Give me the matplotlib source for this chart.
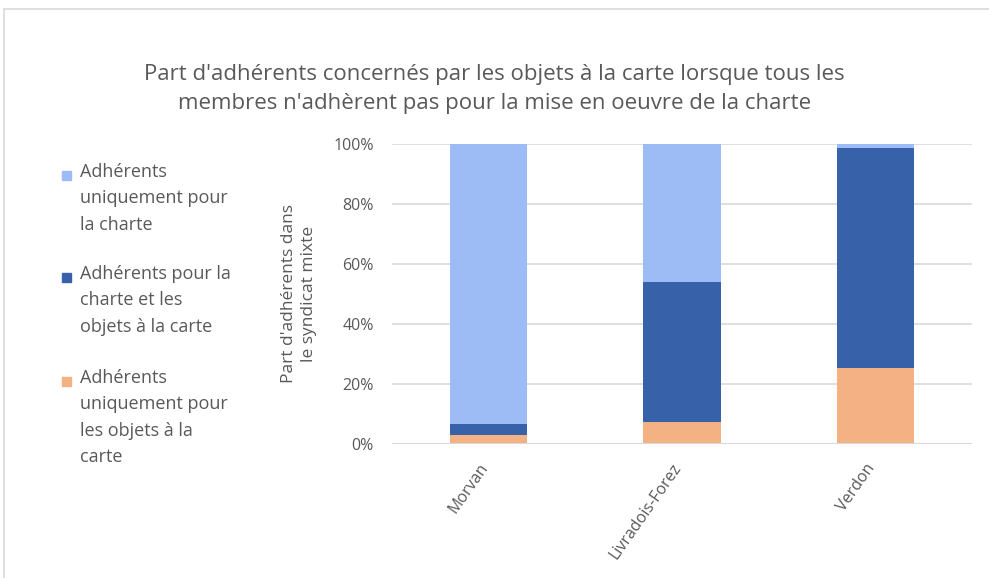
import matplotlib.pyplot as plt
import matplotlib.transforms as mtransforms
from matplotlib.patches import Rectangle

plt.rcParams['font.family'] = ['Open Sans', 'DejaVu Sans']

parcs = ['Morvan', 'Livradois-Forez', 'Verdon']
objets_seuls = [3.1, 7.3, 25.5]        # uniquement pour les objets a la carte
charte_et_objets = [3.7, 46.7, 73.3]   # pour la charte et les objets
charte_seule = [93.2, 46.0, 1.2]       # uniquement pour la charte

series = [
    ('Adhérents\nuniquement pour\nla charte', charte_seule, '#9DBBF4'),
    ('Adhérents pour la\ncharte et les\nobjets à la carte', charte_et_objets, '#3761A8'),
    ('Adhérents\nuniquement pour\nles objets à la\ncarte', objets_seuls, '#F4B183'),
]

grey = '#595959'

fig = plt.figure(figsize=(9.89, 5.78), dpi=100)
ax = fig.add_axes([0.3964, 0.2318, 0.5864, 0.5191])

x = range(len(parcs))
bottom = [0, 0, 0]
for label, vals, col in reversed(series):
    ax.bar(x, vals, bottom=bottom, width=0.4, color=col, zorder=3)
    bottom = [b + v for b, v in zip(bottom, vals)]

ax.set_xlim(-0.5, 2.5)
ax.set_ylim(0, 100)
ax.set_yticks(range(0, 101, 20))
ax.set_yticklabels([f'{v}%' for v in range(0, 101, 20)], fontsize=11.5, color=grey)
ax.set_xticks(list(x))
ax.set_xticklabels(parcs, rotation=55, ha='right', rotation_mode='anchor',
                   fontsize=11.5, color=grey)
ax.tick_params(axis='y', length=0, pad=13)
ax.tick_params(axis='x', length=0, pad=12)
shift = mtransforms.ScaledTranslation(-10 / 100, 0, fig.dpi_scale_trans)
for t in ax.get_xticklabels():
    t.set_transform(t.get_transform() + shift)
ax.grid(axis='y', color='#D9D9D9', linewidth=1.2, zorder=0)
for s in ax.spines.values():
    s.set_visible(False)
ax.axhline(0, color='#D9D9D9', linewidth=1.5, zorder=4)

ax.set_ylabel("Part d'adhérents dans\nle syndicat mixte", fontsize=12.5, color=grey,
              labelpad=12, linespacing=1.35)

fig.text(0.5, 0.846, "Part d'adhérents concernés par les objets à la carte lorsque tous les\n"
         "membres n'adhèrent pas pour la mise en oeuvre de la charte",
         ha='center', va='center', fontsize=16, color=grey, linespacing=1.5)

# legende a gauche
tops = [175, 277, 381]
for (label, vals, col), ty in zip(series, tops):
    fig.patches.append(Rectangle((62 / 989, 1 - (ty + 5) / 578), 9 / 989, 9 / 578,
                                 transform=fig.transFigure, color=col))
    fig.text(80 / 989, 1 - (ty - 12) / 578, label, ha='left', va='top',
             fontsize=13, color=grey, linespacing=1.6)

fig.patches.append(Rectangle((4 / 989, -0.05), 1.1, 1 - 9 / 578 + 0.05,
                             transform=fig.transFigure, fill=False,
                             edgecolor='#D9D9D9', linewidth=1.2))

plt.savefig('out.png')
